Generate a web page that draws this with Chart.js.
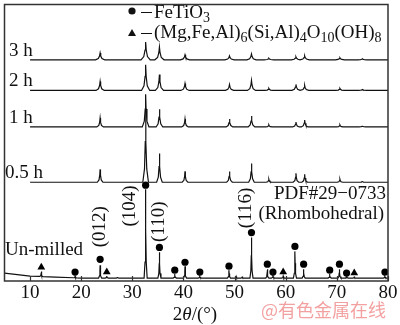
<!DOCTYPE html>
<html>
<head>
<meta charset="utf-8">
<script src="https://cdn.jsdelivr.net/npm/chart.js@4.4.0/dist/chart.umd.min.js"></script>
<style>
  html, body { margin: 0; padding: 0; background: #fff; }
</style>
</head>
<body>
<canvas id="xrd" width="400" height="325"></canvas>
<script>
const xTicks = [10, 20, 30, 40, 50, 60, 70, 80]

// each trace: baseline points [2θ, level] and peaks [2θ, height above baseline]
const base3h = [[10, 224], [80, 224]]
const peaks3h = [[23.7, 7], [32.6, 18], [35.3, 13], [40.3, 5], [49.0, 4], [53.3, 6], [56.7, 1.5], [62.0, 3], [63.7, 4], [70.6, 2], [75.0, 1]]

const base2h = [[10, 193], [80, 193]]
const peaks2h = [[23.7, 9], [32.6, 26], [35.3, 16], [40.3, 7], [49.0, 6], [53.3, 10], [56.7, 2], [62.0, 6], [63.7, 5], [70.6, 2], [75.0, 1]]

const base1h = [[10, 156], [80, 156]]
const peaks1h = [[23.7, 9], [32.6, 33], [35.3, 18], [40.3, 8], [49.0, 8], [53.3, 11], [56.7, 2], [62.0, 5], [63.7, 7], [70.6, 2], [75.0, 1]]

const base05h = [[10, 100], [80, 100]]
const peaks05h = [[23.7, 13], [32.6, 75], [35.3, 29], [40.3, 11], [49.0, 11], [53.3, 19], [56.7, 3], [62.0, 9], [63.7, 8], [70.6, 3], [75.0, 1]]

const baseRaw = [[5, 8], [10, 5], [15, 4], [20, 3], [80, 3]]
const peaksRaw = [[12.2, 5], [18.8, 1.5], [23.7, 13], [25.0, 2], [27.1, 1], [32.6, 90], [35.3, 26], [38.3, 4], [40.3, 12], [43.2, 2], [48.9, 8], [50.3, 1.5], [51.5, 1.5], [53.3, 41], [56.4, 9], [57.5, 3], [59.5, 2], [61.8, 27], [63.5, 9], [68.6, 4], [70.5, 9], [71.9, 2], [73.4, 1.5], [79.4, 2]]

// phase markers above the un-milled peaks
const fetio3Marks = [[18.8, 9], [23.7, 22], [32.6, 97], [35.3, 34], [38.3, 11], [40.3, 19], [43.2, 9], [48.9, 15], [53.3, 49], [56.4, 17], [57.5, 9], [61.8, 35], [63.5, 17], [68.6, 11], [70.5, 17], [71.9, 8], [79.4, 9]]
const chloriteMarks = [[12.2, 14], [25.0, 9], [59.5, 9], [73.4, 8]]

const traceNames = ["3 h", "2 h", "1 h", "0.5 h", "Un-milled"]

const hklLabels = [
  { text: "(012)", x: 23.7, y: 55 },
  { text: "(104)", x: 29.6, y: 76 },
  { text: "(110)", x: 35.2, y: 60 },
  { text: "(116)", x: 52.3, y: 74 }
]

const SERIF = "'Liberation Serif', 'Times New Roman', serif"
const FS = 19

function baseAt(base, x) {
  for (let i = 1; i < base.length; i++) {
    const [x0, y0] = base[i - 1]
    const [x1, y1] = base[i]
    if (x <= x1) return y0 + (y1 - y0) * (x - x0) / (x1 - x0)
  }
  return base[base.length - 1][1]
}

// peak drawn as a sharp spike with a flared foot
function buildTrace(base, peaks, w) {
  const pts = base.map(([x, y]) => ({ x, y }))
  peaks.forEach(([p, h]) => {
    const b = baseAt(base, p)
    pts.push({ x: p - w, y: baseAt(base, p - w) })
    pts.push({ x: p - w * 0.4, y: b + h * 0.18 })
    pts.push({ x: p - w * 0.13, y: b + h * 0.55 })
    pts.push({ x: p, y: b + h })
    pts.push({ x: p + w * 0.13, y: b + h * 0.55 })
    pts.push({ x: p + w * 0.4, y: b + h * 0.18 })
    pts.push({ x: p + w, y: baseAt(base, p + w) })
  })
  return pts.sort((a, b) => a.x - b.x)
}

const traces = [
  buildTrace(base3h, peaks3h, 0.9),
  buildTrace(base2h, peaks2h, 0.8),
  buildTrace(base1h, peaks1h, 0.65),
  buildTrace(base05h, peaks05h, 0.55),
  buildTrace(baseRaw, peaksRaw, 0.3)
]
const traceBases = [base3h, base2h, base1h, base05h, baseRaw]

function drawRich(ctx, parts, x, y, size) {
  parts.forEach(([txt, sub]) => {
    ctx.font = (sub ? Math.round(size * 0.72) : size) + "px " + SERIF
    ctx.fillText(txt, x, sub ? y + size * 0.22 : y)
    x += ctx.measureText(txt).width
  })
  return x
}

const decor = {
  id: "decor",
  afterDraw(chart) {
    const { ctx, chartArea: a, scales } = chart
    const xs = scales.x, ys = scales.y
    ctx.save()

    // frame + inward ticks
    ctx.strokeStyle = "#333"
    ctx.lineWidth = 1.5
    ctx.strokeRect(a.left, a.top, a.right - a.left, a.bottom - a.top)
    ctx.lineWidth = 1.2
    ctx.beginPath()
    xTicks.forEach(v => {
      const px = Math.round(xs.getPixelForValue(v)) + 0.5
      ctx.moveTo(px, a.bottom)
      ctx.lineTo(px, a.bottom - 5)
    })
    ctx.stroke()

    ctx.fillStyle = "#111"
    ctx.textBaseline = "alphabetic"

    // trace names
    ctx.font = FS + "px " + SERIF
    ctx.textAlign = "left"
    traceNames.forEach((n, i) => {
      const b = traceBases[i]
      const yy = ys.getPixelForValue(b[b.length - 1][1])
      const off = i === 4 ? 23 : 4
      ctx.fillText(n, i >= 3 ? 5 : 9, yy - off)
    })

    // hkl indices, rotated
    hklLabels.forEach(l => {
      ctx.save()
      ctx.translate(xs.getPixelForValue(l.x), ys.getPixelForValue(l.y))
      ctx.rotate(-Math.PI / 2)
      ctx.textAlign = "center"
      ctx.textBaseline = "middle"
      ctx.font = FS + "px " + SERIF
      ctx.fillText(l.text, 0, 0)
      ctx.restore()
    })

    ctx.textAlign = "right"
    ctx.font = FS + "px " + SERIF
    ctx.fillText("PDF#29\u22120733", 386, 199)
    ctx.fillText("(Rhombohedral)", 384, 219)

    // legend
    ctx.textAlign = "left"
    ctx.beginPath()
    ctx.arc(132, 11, 3.6, 0, Math.PI * 2)
    ctx.fill()
    ctx.beginPath()
    ctx.moveTo(128, 36); ctx.lineTo(132, 29); ctx.lineTo(136, 36); ctx.closePath()
    ctx.fill()
    ctx.lineWidth = 1.2
    ctx.strokeStyle = "#111"
    ctx.beginPath()
    ctx.moveTo(141, 12.5); ctx.lineTo(152, 12.5)
    ctx.moveTo(141, 33.5); ctx.lineTo(152, 33.5)
    ctx.stroke()
    drawRich(ctx, [["FeTiO", false], ["3", true]], 154, 18, FS)
    drawRich(ctx, [["(Mg,Fe,Al)", false], ["6", true], ["(Si,Al)", false], ["4", true], ["O", false], ["10", true], ["(OH)", false], ["8", true]], 154, 38, FS)

    // axis title
    const p1 = "2", p3 = "/(\u00b0)"
    ctx.font = "italic " + FS + "px " + SERIF
    const wTh = ctx.measureText("\u03b8").width
    ctx.font = FS + "px " + SERIF
    const total = ctx.measureText(p1).width + wTh + ctx.measureText(p3).width
    let tx = 195 - total / 2
    ctx.fillText(p1, tx, 320); tx += ctx.measureText(p1).width
    ctx.font = "italic " + FS + "px " + SERIF
    ctx.fillText("\u03b8", tx, 320); tx += wTh
    ctx.font = FS + "px " + SERIF
    ctx.fillText(p3, tx, 320)

    // site mark
    ctx.font = "18px 'Noto Sans CJK SC'"
    ctx.fillStyle = "rgba(238, 120, 120, 0.7)"
    ctx.fillText("@有色金属在线", 261, 317)
    ctx.restore()
  }
}

new Chart(document.getElementById("xrd"), {
  type: "scatter",
  data: {
    datasets: [
      ...traces.map((t, i) => ({
        label: traceNames[i],
        data: t,
        showLine: true,
        borderColor: "#111",
        borderWidth: 1.2,
        pointRadius: 0,
        tension: 0
      })),
      {
        label: "FeTiO3",
        data: fetio3Marks.map(([x, y]) => ({ x, y })),
        pointStyle: "circle",
        pointRadius: 3.6,
        backgroundColor: "#000",
        borderWidth: 0
      },
      {
        label: "chlorite",
        data: chloriteMarks.map(([x, y]) => ({ x, y })),
        pointStyle: "triangle",
        pointRadius: 4.5,
        backgroundColor: "#000",
        borderWidth: 0
      }
    ]
  },
  options: {
    responsive: false,
    animation: false,
    devicePixelRatio: 1,
    layout: { padding: { left: 1, top: 1, right: 12, bottom: 0 } },
    plugins: { legend: { display: false }, tooltip: { enabled: false } },
    scales: {
      x: {
        type: "linear",
        min: 5,
        max: 80,
        afterBuildTicks: s => { s.ticks = xTicks.map(v => ({ value: v })) },
        afterFit: s => { s.height = 44 },
        grid: { display: false, drawTicks: false },
        border: { display: false },
        ticks: {
          font: { family: SERIF, size: FS },
          color: "#111",
          padding: 1,
          maxRotation: 0,
          autoSkip: false
        }
      },
      y: { display: false, min: 0, max: 280 }
    }
  },
  plugins: [decor]
})
</script>
</body>
</html>
